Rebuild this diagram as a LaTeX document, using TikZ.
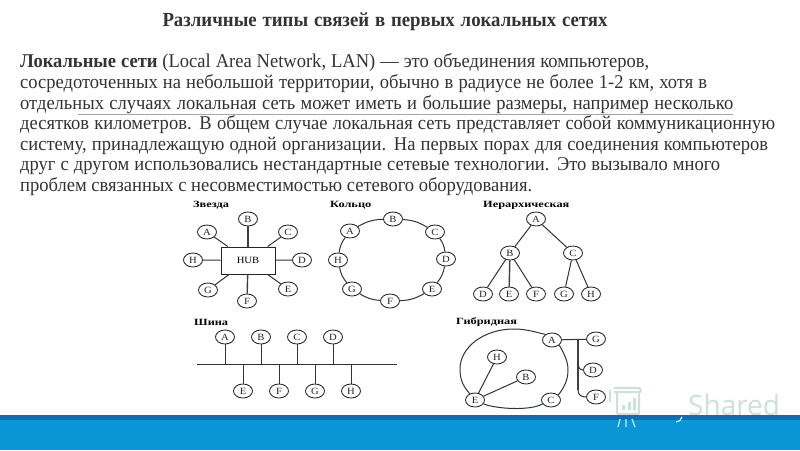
\documentclass[tikz,border=0pt]{standalone}
\usepackage{fontspec}
\setmainfont[FakeStretch=0.95]{Liberation Serif}
\newfontfamily\titlefont[FakeStretch=0.94]{Liberation Serif}
\newfontfamily\capfont[FakeStretch=1.3]{Liberation Serif}
\newfontfamily\labelfont[FakeStretch=1.12]{Liberation Serif}
\newfontfamily\wmfont{Open Sans}
\usetikzlibrary{shapes.geometric}
\definecolor{bandblue}{HTML}{0A95D6}
\definecolor{banddark}{HTML}{1A68AE}
\definecolor{wmark}{HTML}{CFE0DB}
\definecolor{inktext}{HTML}{333333}
\newcommand{\bodyline}[3]{\node[bodytext] at (20,#1) {\makebox[#3pt][s]{#2}};}
\tikzset{
  x=1pt,y=-1pt,
  bodytext/.style={anchor=west,inner sep=0pt,text=inktext,font=\fontsize{19.5}{20}\selectfont},
  station/.style={draw=black!85,ellipse,line width=0.85pt,minimum width=19pt,minimum height=14pt,inner sep=0pt,font=\labelfont\fontsize{9.5}{10}\selectfont,text=black!85},
  link/.style={draw=black!80,line width=1pt},
  heavylink/.style={draw=black!75,line width=1.4pt},
  capt/.style={anchor=west,inner sep=0pt,font=\capfont\fontsize{9.5}{10}\selectfont\bfseries},
}
\begin{document}
\begin{tikzpicture}
\useasboundingbox (0,0) rectangle (800,450);
\fill[white] (0,0) rectangle (800,450);
% watermark
\node[anchor=base west,inner sep=0pt,text=wmark,font=\wmfont\fontsize{28}{28}\selectfont] at (688,415) {Shared};
\draw[wmark,line width=2pt,rounded corners=1pt] (614,392) -- (641,392) -- (640,388) -- (614,388) (617,392) -- (617,414) -- (639,414) -- (639,392);
\draw[wmark,line width=1.5pt] (610,390) -- (610,402);
\fill[wmark] (622,405) rectangle (625,410) (628,402) rectangle (631,410) (633,398) rectangle (636,410);
% band
\fill[bandblue] (0,415) rectangle (800,450);
\fill[banddark] (0,415) rectangle (800,420);
\draw[white!75!bandblue,line width=1.3pt] (620,419) -- (618,427) (626,419) -- (626,427) (632,419) -- (635,427);
\draw[white!80!bandblue,line width=1.3pt] (682,417) .. controls (681,420) and (679,422) .. (676,422);
% text
\node[inner sep=0pt,text=inktext,font=\titlefont\fontsize{20}{20}\selectfont\bfseries] (title) at (385,22) {\makebox[445pt][s]{Различные типы связей в первых локальных сетях}};
\bodyline{63}{\textbf{Локальные сети} (Local Area Network, LAN) — это объединения компьютеров,}{629}
\bodyline{84}{сосредоточенных на небольшой территории, обычно в радиусе не более 1-2 км, хотя в}{687}
\bodyline{105}{отдельных случаях локальная сеть может иметь и большие размеры, например несколько}{713}
\bodyline{125}{десятков километров. В общем случае локальная сеть представляет собой коммуникационную}{755}
\bodyline{146}{систему, принадлежащую одной организации. На первых порах для соединения компьютеров}{748}
\bodyline{166}{друг с другом использовались нестандартные сетевые технологии. Это вызывало много}{700}
\bodyline{187}{проблем связанных с несовместимостью сетевого оборудования.}{512}
\draw[black!35,line width=0.7pt] (78,114) -- (733,114);
% captions
\node[capt] (c1) at (193,205) {Звезда};
\node[capt] (c2) at (330,205) {Кольцо};
\node[capt] (c3) at (483,205) {Иерархическая};
\node[capt] (c4) at (194,322) {Шина};
\node[capt] (c5) at (456,322) {Гибридная};
% star
\node[draw=black!85,line width=1pt,minimum width=54pt,minimum height=27pt,inner sep=0pt,font=\labelfont\fontsize{9.5}{10}\selectfont] (hub) at (248,260.5) {HUB};
\node[station] (sa) at (207,232) {A};
\node[station] (sb) at (248,219) {B};
\node[station] (sc) at (288,232) {C};
\node[station] (sd) at (302,260) {D};
\node[station] (se) at (288,289) {E};
\node[station] (sf) at (247,301) {F};
\node[station] (sg) at (208,290) {G};
\node[station] (sh) at (193,260) {H};
\foreach \n in {sa,sc,sd,se,sg,sh} \draw[link] (\n) -- (hub);
\foreach \n in {sb,sf} \draw[heavylink] (\n) -- (hub);
% ring
\node[station] (ra) at (350,231) {A};
\node[station] (rb) at (393,219) {B};
\node[station] (rc) at (435,232) {C};
\node[station] (rd) at (446,259) {D};
\node[station] (re) at (432,289) {E};
\node[station] (rf) at (390,301) {F};
\node[station] (rg) at (352,289) {G};
\node[station] (rh) at (338,260) {H};
\foreach \p/\q in {ra/rb,rb/rc,rc/rd,rd/re,re/rf,rf/rg,rg/rh,rh/ra} \draw[link] (\p) to[bend left=14] (\q);
% hierarchy
\node[station] (ta) at (536,219) {A};
\node[station] (tb) at (510,253) {B};
\node[station] (tc) at (573,253) {C};
\node[station] (td) at (483,294) {D};
\node[station] (te) at (509,294) {E};
\node[station] (tf) at (536,294) {F};
\node[station] (tg) at (564,294) {G};
\node[station] (th) at (591,294) {H};
\foreach \p/\q in {ta/tb,ta/tc,tb/td,tb/tf,tc/tg,tc/th} \draw[link] (\p) -- (\q);
\draw[heavylink] (tb) -- (te);
% bus
\node[station] (ba) at (225,337) {A};
\node[station] (bb) at (261,337) {B};
\node[station] (bc) at (297,337) {C};
\node[station] (bd) at (333,337) {D};
\node[station] (be) at (243,391) {E};
\node[station] (bf) at (279,391) {F};
\node[station] (bg) at (315,391) {G};
\node[station] (bh) at (351,391) {H};
\coordinate (busl) at (197,364);
\coordinate (busr) at (397,364);
\draw[link] (busl) -- (busr);
\foreach \n in {ba,bb,bc,bd,be,bf,bg,bh} \draw[link] (\n) -- (\n |- busl);
% hybrid
\node[station] (ha) at (552,340) {A};
\node[station] (hc) at (551,400) {C};
\node[station] (he) at (475,400) {E};
\node[station] (hh) at (497,357) {H};
\node[station] (hb) at (526,377) {B};
\node[station] (hg) at (596,339) {G};
\node[station] (hd) at (593,370) {D};
\node[station] (hf) at (596,397) {F};
\draw[link] (ha.140) .. controls (532,331) and (524,329) .. (514,329) .. controls (484,329) and (460,347) .. (460,369) .. controls (460,381) and (464,387) .. (he.130);
\draw[link] (he.-25) .. controls (497,409) and (530,411) .. (hc.205);
\draw[link] (ha.-35) .. controls (563,352) and (568,360) .. (568,370) .. controls (568,380) and (564,388) .. (hc.35);
\draw[link] (he) -- (hh);
\draw[link] (he) -- (hb);
\draw[link] (ha) -- (hg);
\coordinate (ht) at (578,339);
\coordinate (hm) at (578,363);
\coordinate (hl) at (578,390);
\draw[heavylink] (ht) -- (hl);
\draw[link] (hl) .. controls (578,395) and (581,397) .. (hf.west);
\draw[link] (hm) .. controls (578,368) and (580,370) .. (hd.west);
\end{tikzpicture}
\end{document}
